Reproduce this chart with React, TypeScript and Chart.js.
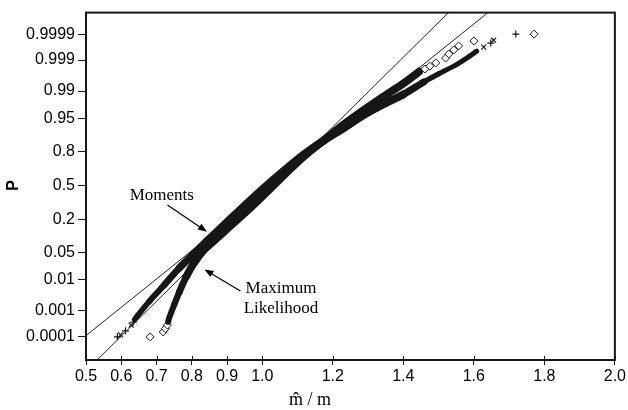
import React, { useEffect, useRef } from "react";
import { Chart, registerables } from "chart.js";

Chart.register(...registerables);

// ---------- data (x = m̂/m, y = normal score of plotting position P) ----------
const xTickValues = [0.5, 0.6, 0.7, 0.8, 0.9, 1.0, 1.2, 1.4, 1.6, 1.8, 2.0];
const yTickP = [0.0001, 0.001, 0.01, 0.05, 0.2, 0.5, 0.8, 0.95, 0.99, 0.999, 0.9999];
const yTickLabels = ["0.0001", "0.001", "0.01", "0.05", "0.2", "0.5", "0.8", "0.95", "0.99", "0.999", "0.9999"];

// theoretical straight lines
const lineAX = [0.5, 1.66];
const lineAZ = [-3.7, 4.4];
const lineBX = [0.5, 1.55];
const lineBZ = [-4.57, 4.45];

// Moments estimates (crosses) – dense band
const momentsBandX = [0.638, 0.646, 0.68, 0.722, 0.765, 0.805, 0.842, 0.882, 0.937, 0.992, 1.05, 1.108, 1.168, 1.232, 1.288, 1.345, 1.401, 1.458, 1.5, 1.543, 1.58, 1.608];
const momentsBandZ = [-3.3, -3.21, -2.85, -2.45, -2.03, -1.69, -1.38, -1.05, -0.6, -0.16, 0.28, 0.7, 1.07, 1.42, 1.74, 2.01, 2.25, 2.55, 2.75, 2.94, 3.14, 3.31];
// Moments estimates – isolated tail points
const momentsTailX = [0.589, 0.598, 0.612, 0.628, 0.634, 1.628, 1.648, 1.656, 1.719];
const momentsTailZ = [-3.73, -3.68, -3.58, -3.44, -3.37, 3.41, 3.51, 3.58, 3.73];

// Maximum likelihood estimates (diamonds) – dense band
const mlBandX = [0.733, 0.736, 0.75, 0.765, 0.784, 0.807, 0.835, 0.866, 0.91, 0.966, 1.021, 1.076, 1.133, 1.175, 1.232, 1.288, 1.345, 1.401, 1.444];
const mlBandZ = [-3.36, -3.26, -2.94, -2.62, -2.25, -1.9, -1.58, -1.34, -0.99, -0.55, -0.09, 0.38, 0.83, 1.12, 1.51, 1.86, 2.2, 2.52, 2.8];
// Maximum likelihood – isolated tail points
const mlTailX = [0.682, 0.719, 0.725, 0.731, 1.461, 1.475, 1.492, 1.52, 1.529, 1.543, 1.557, 1.6, 1.771];
const mlTailZ = [-3.73, -3.61, -3.53, -3.44, 2.87, 2.94, 3.02, 3.14, 3.24, 3.34, 3.44, 3.56, 3.73];

// ---------- helpers ----------
function probit(p: number): number {
  const a = [-39.69683028665376, 220.9460984245205, -275.9285104469687, 138.357751867269, -30.66479806614716, 2.506628277459239];
  const b = [-54.47609879822406, 161.5858368580409, -155.6989798598866, 66.80131188771972, -13.28068155288572];
  const c = [-0.007784894002430293, -0.3223964580411365, -2.400758277161838, -2.549732539343734, 4.374664141464968, 2.938163982698783];
  const d = [0.007784695709041462, 0.3224671290700398, 2.445134137142996, 3.754408661907416];
  const pl = 0.02425;
  if (p < pl) {
    const q = Math.sqrt(-2 * Math.log(p));
    return (((((c[0] * q + c[1]) * q + c[2]) * q + c[3]) * q + c[4]) * q + c[5]) / ((((d[0] * q + d[1]) * q + d[2]) * q + d[3]) * q + 1);
  }
  if (p <= 1 - pl) {
    const q = p - 0.5;
    const r = q * q;
    return ((((((a[0] * r + a[1]) * r + a[2]) * r + a[3]) * r + a[4]) * r + a[5]) * q) / (((((b[0] * r + b[1]) * r + b[2]) * r + b[3]) * r + b[4]) * r + 1);
  }
  const q = Math.sqrt(-2 * Math.log(1 - p));
  return -(((((c[0] * q + c[1]) * q + c[2]) * q + c[3]) * q + c[4]) * q + c[5]) / ((((d[0] * q + d[1]) * q + d[2]) * q + d[3]) * q + 1);
}

const zip = (xs: number[], ys: number[]) => xs.map((x, i) => ({ x, y: ys[i] }));
const yTickZ = yTickP.map(probit);
const clamp = (v: number, lo: number, hi: number) => Math.max(lo, Math.min(hi, v));

const INK = "#161616";
const SERIF = "'Liberation Serif', 'Times New Roman', serif";
const SANS = "'Liberation Sans', Arial, sans-serif";

const annotations = [
  { text: "Moments", x: 0.715, z: -0.25 },
  { text: "Maximum", x: 1.053, z: -2.55 },
  { text: "Likelihood", x: 1.053, z: -3.04 },
];
const arrows = [
  { fromX: 0.731, fromZ: -0.48, toX: 0.843, toZ: -1.14 },
  { fromX: 0.938, fromZ: -2.6, toX: 0.836, toZ: -2.07 },
];

const decorPlugin = {
  id: "decor",
  afterDatasetsDraw(chart: any) {
    const { ctx, scales } = chart;
    const xs = scales.x;
    const ys = scales.y;
    ctx.save();
    ctx.fillStyle = "#000";
    ctx.font = `17px ${SERIF}`;
    ctx.textAlign = "center";
    ctx.textBaseline = "middle";
    annotations.forEach((a) => {
      ctx.fillText(a.text, xs.getPixelForValue(a.x), ys.getPixelForValue(a.z));
    });
    ctx.strokeStyle = "#000";
    ctx.lineWidth = 1.2;
    arrows.forEach((a) => {
      const x1 = xs.getPixelForValue(a.fromX);
      const y1 = ys.getPixelForValue(a.fromZ);
      const x2 = xs.getPixelForValue(a.toX);
      const y2 = ys.getPixelForValue(a.toZ);
      const ang = Math.atan2(y2 - y1, x2 - x1);
      const hl = 9;
      const hw = 3.5;
      ctx.beginPath();
      ctx.moveTo(x1, y1);
      ctx.lineTo(x2 - Math.cos(ang) * hl * 0.8, y2 - Math.sin(ang) * hl * 0.8);
      ctx.stroke();
      ctx.beginPath();
      ctx.moveTo(x2, y2);
      ctx.lineTo(x2 - Math.cos(ang) * hl - Math.sin(ang) * hw, y2 - Math.sin(ang) * hl + Math.cos(ang) * hw);
      ctx.lineTo(x2 - Math.cos(ang) * hl + Math.sin(ang) * hw, y2 - Math.sin(ang) * hl - Math.cos(ang) * hw);
      ctx.closePath();
      ctx.fill();
    });
    ctx.restore();
  },
  afterDraw(chart: any) {
    const { ctx, chartArea, scales } = chart;
    ctx.save();
    ctx.strokeStyle = INK;
    ctx.lineWidth = 2;
    ctx.strokeRect(chartArea.left, chartArea.top, chartArea.right - chartArea.left, chartArea.bottom - chartArea.top);
    ctx.lineWidth = 1;
    scales.x.ticks.forEach((t: any) => {
      const px = Math.round(scales.x.getPixelForValue(t.value)) + 0.5;
      ctx.beginPath();
      ctx.moveTo(px, chartArea.bottom);
      ctx.lineTo(px, chartArea.bottom - 4);
      ctx.stroke();
    });
    ctx.fillStyle = "#000";
    ctx.font = `18px ${SERIF}`;
    ctx.textAlign = "center";
    ctx.textBaseline = "alphabetic";
    ctx.fillText("m\u0302 / m", 310, 405);
    ctx.font = `bold 16px ${SANS}`;
    ctx.translate(14, scales.y.getPixelForValue(0));
    ctx.rotate(-Math.PI / 2);
    ctx.textBaseline = "middle";
    ctx.fillText("P", 0, 0);
    ctx.restore();
  },
};

const bandStyle = {
  showLine: true,
  borderColor: INK,
  borderWidth: 8,
  borderCapStyle: "round",
  borderJoinStyle: "round",
  tension: 0.25,
  pointRadius: 0,
};

export default function App() {
  const ref = useRef<HTMLCanvasElement | null>(null);
  useEffect(() => {
    if (!ref.current) return;
    const chart = new Chart(ref.current, {
      type: "scatter",
      data: {
        datasets: [
          {
            data: zip(momentsBandX, momentsBandZ),
            ...bandStyle,
            segment: {
              borderWidth: (c: any) => {
                const x = (c.p0.parsed.x + c.p1.parsed.x) / 2;
                if (x < 0.85) return clamp(5.5 + (x - 0.66) * 15, 5.5, 8);
                return clamp(8 - (x - 1.41) * 40, 5, 8);
              },
            },
          },
          {
            data: zip(mlBandX, mlBandZ),
            ...bandStyle,
            segment: {
              borderWidth: (c: any) => {
                const x = (c.p0.parsed.x + c.p1.parsed.x) / 2;
                return clamp(6 + (x - 0.745) * 30, 6, 8);
              },
            },
          },
          { data: zip(lineAX, lineAZ), showLine: true, borderColor: "#222", borderWidth: 1, pointRadius: 0 },
          { data: zip(lineBX, lineBZ), showLine: true, borderColor: "#222", borderWidth: 1, pointRadius: 0 },
          {
            data: zip(momentsTailX, momentsTailZ),
            showLine: false,
            pointStyle: momentsTailX.map((_, i) => (i % 2 === 0 ? "cross" : "crossRot")),
            pointRadius: 3.5,
            borderColor: INK,
            borderWidth: 1.2,
          },
          {
            data: zip(mlTailX, mlTailZ),
            showLine: false,
            pointStyle: "rectRot",
            pointRadius: 4,
            borderColor: INK,
            backgroundColor: "#fff",
            borderWidth: 1,
          },
        ],
      },
      options: {
        animation: false,
        responsive: false,
        devicePixelRatio: 1,
        layout: { padding: { top: 12, right: 12, left: 0, bottom: 0 } },
        plugins: { legend: { display: false }, tooltip: { enabled: false } },
        scales: {
          x: {
            type: "linear",
            min: 0.5,
            max: 2.0,
            afterBuildTicks: (s: any) => {
              s.ticks = xTickValues.map((v) => ({ value: v }));
            },
            afterFit: (s: any) => {
              s.height = 50;
            },
            ticks: {
              autoSkip: false,
              maxRotation: 0,
              color: "#000",
              padding: 2,
              font: { family: SANS, size: 16 },
              callback: (v: any) => Number(v).toFixed(1),
            },
            grid: { drawOnChartArea: false, drawTicks: true, tickLength: 5, color: INK },
            border: { display: false },
          },
          y: {
            type: "linear",
            min: -4.3,
            max: 4.26,
            afterBuildTicks: (s: any) => {
              s.ticks = yTickZ.map((v) => ({ value: v }));
            },
            afterFit: (s: any) => {
              s.width = 86;
            },
            ticks: {
              autoSkip: false,
              color: "#000",
              padding: 3,
              font: { family: SANS, size: 16 },
              callback: (v: any) => {
                let best = 0;
                yTickZ.forEach((z, i) => {
                  if (Math.abs(z - v) < Math.abs(yTickZ[best] - v)) best = i;
                });
                return yTickLabels[best];
              },
            },
            grid: { drawOnChartArea: false, drawTicks: true, tickLength: 8, color: INK },
            border: { display: false },
          },
        },
      },
      plugins: [decorPlugin],
    } as any);
    return () => chart.destroy();
  }, []);
  return (
    <div style={{ position: "fixed", left: 0, top: 0, width: 628, height: 410, background: "#fff" }}>
      <canvas ref={ref} width={628} height={410} style={{ width: 628, height: 410, display: "block" }} />
    </div>
  );
}
